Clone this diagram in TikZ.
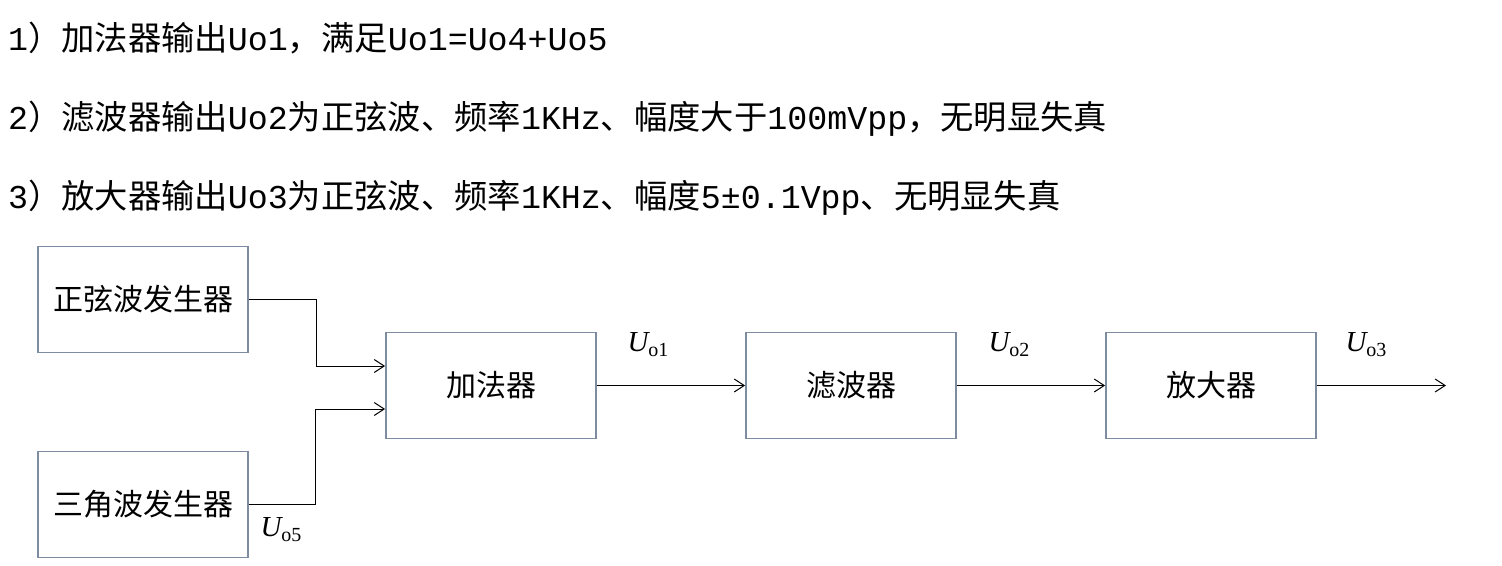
\documentclass[tikz,border=0pt]{standalone}
\usepackage{fontspec}
\setmainfont{Liberation Serif}
\newfontfamily\cjk{Noto Sans CJK SC}
\newfontfamily\mono{Liberation Mono}
\usetikzlibrary{arrows.meta,calc}
\definecolor{boxc}{RGB}{125,140,160}
\newcommand{\Ulab}[1]{{\fontsize{29}{29}\selectfont\itshape U}{\fontsize{20}{20}\selectfont\raisebox{-5pt}{#1}}}
\begin{document}
\begin{tikzpicture}[x=1pt,y=-1pt,
  blk/.style={draw=boxc,line width=1.8pt,minimum width=210pt,minimum height=106pt,inner sep=0pt,font=\cjk\fontsize{30}{30}\selectfont},
  conn/.style={draw=black,line width=1pt,-{Straight Barb[length=10pt,width=13pt,line width=1pt]}},
  txt/.style={anchor=base west,inner sep=0pt,font=\fontsize{33.3}{33.3}\selectfont},
  lab/.style={inner sep=0pt}]
\useasboundingbox (0,0) rectangle (1502,565);
\node[txt] (l1) at (8,50) {\mono 1\cjk ）加法器输出\mono Uo1\cjk ，满足\mono Uo1=Uo4+Uo5};
\node[txt] (l2) at (8,129) {\mono 2\cjk ）滤波器输出\mono Uo2\cjk 为正弦波、频率\mono 1KHz\cjk 、幅度大于\mono 100mVpp\cjk ，无明显失真};
\node[txt] (l3) at (8,208) {\mono 3\cjk ）放大器输出\mono Uo3\cjk 为正弦波、频率\mono 1KHz\cjk 、幅度\mono 5±0.1Vpp\cjk 、无明显失真};
\node[blk] (sin) at (143,299.5) {正弦波发生器};
\node[blk] (tri) at (143,504.5) {三角波发生器};
\node[blk] (add) at (491,385.5) {加法器};
\node[blk] (fil) at (851,385.5) {滤波器};
\node[blk] (amp) at (1211,385.5) {放大器};
\coordinate (out) at (1446,385.5);
\draw[conn] (sin.east) -- (316,299.5) |- ($(add.west)+(0,-19.5)$);
\draw[conn] (tri.east) -- (315,504.5) |- ($(add.west)+(0,23.5)$);
\draw[conn] (add.east) -- (fil.west);
\draw[conn] (fil.east) -- (amp.west);
\draw[conn] (amp.east) -- (out);
\node[lab] (u1) at (648,345) {\Ulab{o1}};
\node[lab] (u2) at (1009,345) {\Ulab{o2}};
\node[lab] (u3) at (1366,345) {\Ulab{o3}};
\node[lab] (u5) at (281,530) {\Ulab{o5}};
\end{tikzpicture}
\end{document}
